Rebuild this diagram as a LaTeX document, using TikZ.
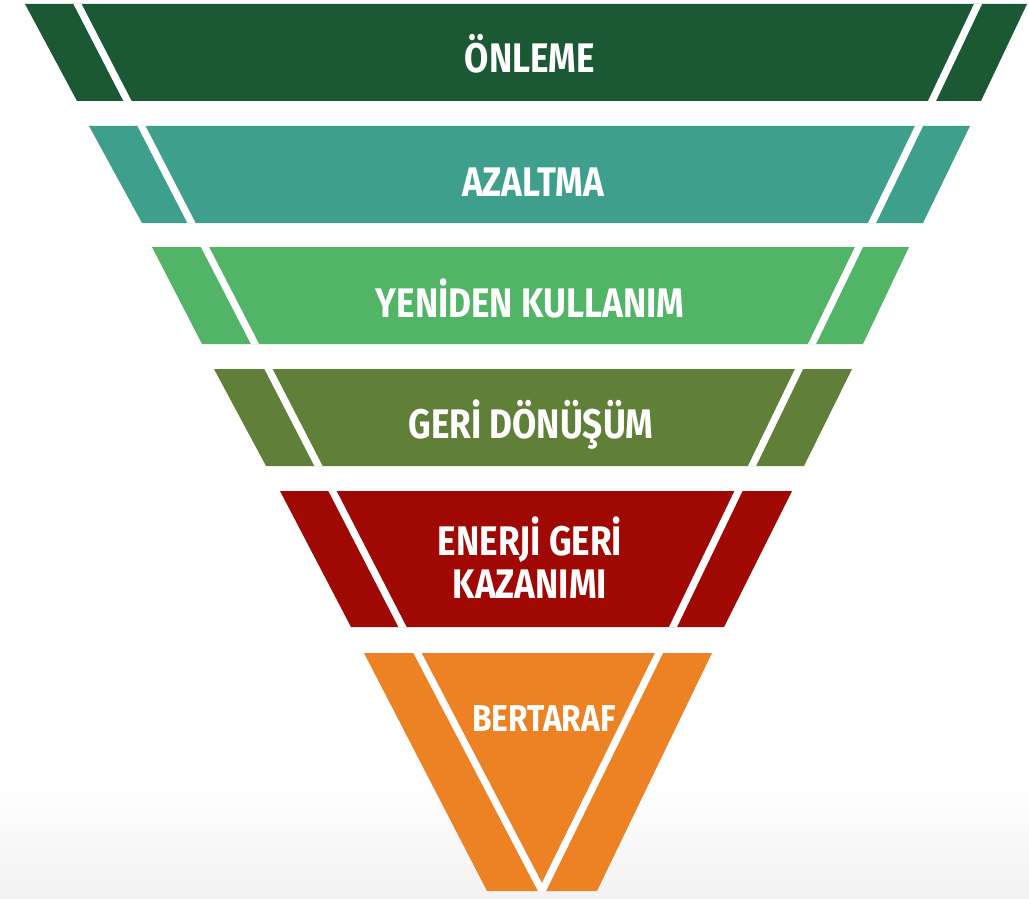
\documentclass[tikz,border=0pt]{standalone}
\usepackage{fontspec}
\setmainfont[FakeStretch=0.85]{Fira Sans}

\definecolor{onlemeC}{HTML}{1B5834}
\definecolor{azaltmaC}{HTML}{3E9F8D}
\definecolor{yenidenC}{HTML}{51B466}
\definecolor{geriC}{HTML}{608039}
\definecolor{enerjiC}{HTML}{A00903}
\definecolor{bertarafC}{HTML}{ED8224}

\tikzset{
  cut/.style={white, line width=5.4pt, line cap=rect},
  bandtext/.style={text=white, anchor=base, align=center, inner sep=0pt,
    font=\bfseries\fontsize{31}{32}\selectfont}
}

\begin{document}
\begin{tikzpicture}[x=0.75pt,y=0.75pt,yscale=-1,xscale=1]

\useasboundingbox (0,0) rectangle (1029,899);
\shade [top color=white, bottom color=black!5] (0,780) rectangle (1029,899);

% ONLEME
\begin{scope}
\clip (25,4) -- (1027,4) -- (981,101) -- (77,101) -- cycle;
\fill [onlemeC] (0,0) rectangle (1029,110);
\draw [cut] (77.5,4) -- (127.5,101);
\draw [cut] (978,4) -- (932,101);
\end{scope}

% AZALTMA
\begin{scope}
\clip (89,126) -- (970,126) -- (923,223) -- (142,223) -- cycle;
\fill [azaltmaC] (0,120) rectangle (1029,230);
\draw [cut] (141.5,126) -- (191.5,223);
\draw [cut] (919,126) -- (872,223);
\end{scope}

% YENIDEN KULLANIM
\begin{scope}
\clip (152,247) -- (909,247) -- (863,344) -- (202,344) -- cycle;
\fill [yenidenC] (0,240) rectangle (1029,350);
\draw [cut] (205,247) -- (255,344);
\draw [cut] (859,247) -- (812,344);
\end{scope}

% GERI DONUSUM
\begin{scope}
\clip (214,369) -- (852,369) -- (804,466) -- (266,466) -- cycle;
\fill [geriC] (0,360) rectangle (1029,470);
\draw [cut] (268.5,369) -- (318.5,466);
\draw [cut] (799,369) -- (752,466);
\end{scope}

% ENERJI GERI KAZANIMI
\begin{scope}
\clip (280,491) -- (792,491) -- (724,627) -- (351,627) -- cycle;
\fill [enerjiC] (0,485) rectangle (1029,635);
\draw [cut] (332.5,491) -- (402.5,627);
\draw [cut] (738.5,491) -- (673,627);
\end{scope}

% BERTARAF
\begin{scope}
\clip (364,653) -- (712,653) -- (597,891) -- (487,891) -- cycle;
\fill [bertarafC] (0,645) rectangle (1029,895);
\draw [cut] (417.5,653) -- (542,891);
\draw [cut] (659,653) -- (542,891);
\end{scope}

\node [bandtext] (onleme) at (530,73) {ÖNLEME};
\node [bandtext] (azaltma) at (533,196) {AZALTMA};
\node [bandtext] (yeniden) at (530,317) {YENİDEN KULLANIM};
\node [bandtext] (geri) at (531,438) {GERİ DÖNÜŞÜM};
\node [bandtext] (enerji) at (530,598) {ENERJİ GERİ\\KAZANIMI};
\node [bandtext, font=\bfseries\fontsize{28}{30}\selectfont] (bertaraf) at (544,731) {BERTARAF};

\end{tikzpicture}
\end{document}
